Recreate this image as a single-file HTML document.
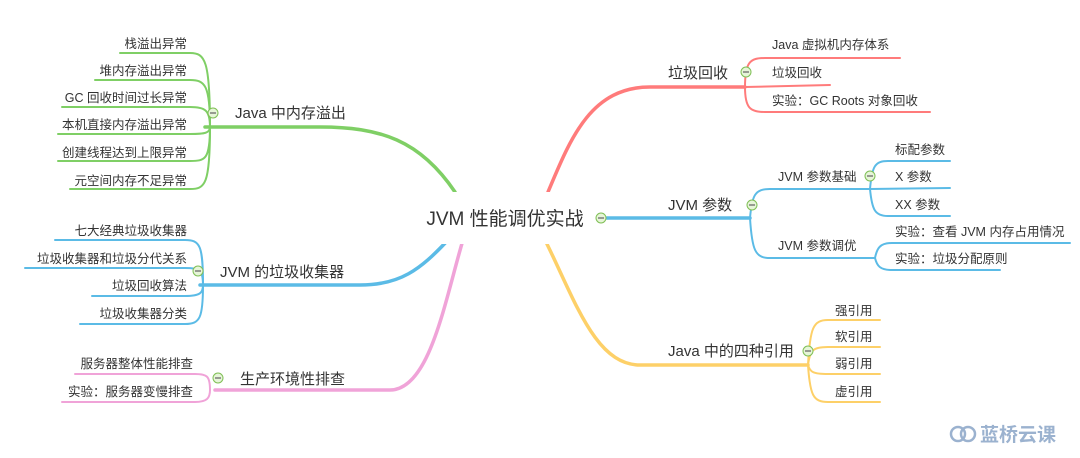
<!DOCTYPE html>
<html><head><meta charset="utf-8"><style>
body{margin:0;background:#fff;}
svg{display:block}
text{font-family:"Liberation Sans","Noto Sans CJK SC",sans-serif;fill:#333;}
.l{font-size:12.5px;}
.m{font-size:15px;}
</style></head><body>
<svg width="1080" height="458" viewBox="0 0 1080 458" xmlns="http://www.w3.org/2000/svg">
<g fill="none" stroke-linecap="round">
<!-- green -->
<g stroke="#7fcf65">
<path d="M455 192 C420 140 380 127 320 127 L205 127" stroke-width="3.5"/>
<g stroke-width="2">
<path d="M210 127 C210 60 205 53 190 53 L120 53"/>
<path d="M210 127 C210 85 205 80 190 80 L95 80"/>
<path d="M210 127 C210 110 205 107 190 107 L62 107"/>
<path d="M210 127 C210 133 205 134 190 134 L58 134"/>
<path d="M210 127 C210 160 205 161 190 161 L58 161"/>
<path d="M210 127 C210 185 205 189 190 189 L70 189"/>
</g></g>
<!-- blue left -->
<g stroke="#5bbbe6">
<path d="M448 240 C420 270 400 285 360 285 L200 285" stroke-width="3.5"/>
<g stroke-width="2">
<path d="M203 285 C203 245 200 240 185 240 L55 240"/>
<path d="M203 285 C203 270 200 268 185 268 L25 268"/>
<path d="M203 285 C203 293 200 296 185 296 L92 296"/>
<path d="M203 285 C203 318 200 324 185 324 L80 324"/>
</g></g>
<!-- pink -->
<g stroke="#f0a3d8">
<path d="M463 240 C445 300 430 390 390 390 L215 390" stroke-width="3.5"/>
<g stroke-width="2">
<path d="M210 390 C210 376 207 374 195 374 L75 374"/>
<path d="M210 390 C210 398 207 402 195 402 L62 402"/>
</g></g>
<!-- red -->
<g stroke="#ff7b7b">
<path d="M548 192 C570 140 590 87 650 87 L745 87" stroke-width="3.5"/>
<g stroke-width="2">
<path d="M745 87 C745 62 750 58 765 58 L900 58"/>
<path d="M745 87 L830 85"/>
<path d="M745 87 C745 108 750 112 765 112 L930 112"/>
</g></g>
<!-- blue right -->
<g stroke="#5bbbe6">
<path d="M607 218 L750 218" stroke-width="3.5"/>
<g stroke-width="2">
<path d="M750 218 C752 195 755 189 770 189 L870 189"/>
<path d="M750 218 C752 250 755 258 770 258 L875 258"/>
<path d="M870 189 C872 166 875 161 888 161 L950 161"/>
<path d="M870 189 L950 188"/>
<path d="M870 189 C872 210 875 216 888 216 L950 216"/>
<path d="M875 258 C877 248 880 243 892 243 L1070 243"/>
<path d="M875 258 C877 266 880 270 892 270 L1000 270"/>
</g></g>
<!-- yellow -->
<g stroke="#fdd068">
<path d="M545 240 C575 300 595 365 640 365 L808 365" stroke-width="3.5"/>
<g stroke-width="2">
<path d="M808 365 C810 328 813 320 828 320 L880 320"/>
<path d="M808 365 C810 350 813 347 828 347 L880 347"/>
<path d="M808 365 C810 372 813 374 828 374 L880 374"/>
<path d="M808 365 C810 395 813 402 828 402 L880 402"/>
</g></g>
</g>
<!-- center -->
<rect x="410" y="192" width="192" height="52" rx="26" fill="#fff"/>
<text x="505" y="225" text-anchor="middle" style="font-size:19px">JVM 性能调优实战</text>
<!-- collapse circles -->
<g stroke="#7fbf55" stroke-width="1" fill="#e6f5d8">
<circle cx="601" cy="218" r="5"/><circle cx="213" cy="113" r="5"/><circle cx="198" cy="271" r="5"/>
<circle cx="218" cy="378" r="5"/><circle cx="746" cy="72" r="5"/><circle cx="752" cy="205" r="5"/>
<circle cx="870" cy="176" r="5"/><circle cx="808" cy="351" r="5"/>
</g>
<g stroke="#666" stroke-width="1.2">
<path d="M598 218h6M210 113h6M195 271h6M215 378h6M743 72h6M749 205h6M867 176h6M805 351h6"/>
</g>
<!-- labels -->
<text class="m" x="235" y="118">Java 中内存溢出</text>
<text class="m" x="220" y="277">JVM 的垃圾收集器</text>
<text class="m" x="240" y="384">生产环境性排查</text>
<text class="m" x="668" y="78">垃圾回收</text>
<text class="m" x="668" y="210">JVM 参数</text>
<text class="m" x="668" y="356">Java 中的四种引用</text>
<g class="l" text-anchor="end">
<text x="187" y="48">栈溢出异常</text>
<text x="187" y="75">堆内存溢出异常</text>
<text x="187" y="102">GC 回收时间过长异常</text>
<text x="187" y="129">本机直接内存溢出异常</text>
<text x="187" y="157">创建线程达到上限异常</text>
<text x="187" y="185">元空间内存不足异常</text>
<text x="187" y="235">七大经典垃圾收集器</text>
<text x="187" y="263">垃圾收集器和垃圾分代关系</text>
<text x="187" y="290">垃圾回收算法</text>
<text x="187" y="318">垃圾收集器分类</text>
<text x="193" y="368">服务器整体性能排查</text>
<text x="193" y="396">实验：服务器变慢排查</text>
</g>
<g class="l">
<text x="772" y="49">Java 虚拟机内存体系</text>
<text x="772" y="77">垃圾回收</text>
<text x="772" y="105">实验：GC Roots 对象回收</text>
<text x="778" y="181">JVM 参数基础</text>
<text x="778" y="250">JVM 参数调优</text>
<text x="895" y="154">标配参数</text>
<text x="895" y="181">X 参数</text>
<text x="895" y="209">XX 参数</text>
<text x="895" y="236">实验：查看 JVM 内存占用情况</text>
<text x="895" y="263">实验：垃圾分配原则</text>
<text x="835" y="315">强引用</text>
<text x="835" y="341">软引用</text>
<text x="835" y="368">弱引用</text>
<text x="835" y="396">虚引用</text>
</g>
<!-- logo -->
<g opacity="0.6">
<circle cx="958" cy="434" r="7" fill="none" stroke="#5a7fb0" stroke-width="2.5"/>
<circle cx="968" cy="434" r="7" fill="none" stroke="#5a7fb0" stroke-width="2.5"/>
<text x="980" y="441" style="font-size:19px;font-weight:bold;fill:#5a7fb0">蓝桥云课</text>
</g>
</svg>
</body></html>
